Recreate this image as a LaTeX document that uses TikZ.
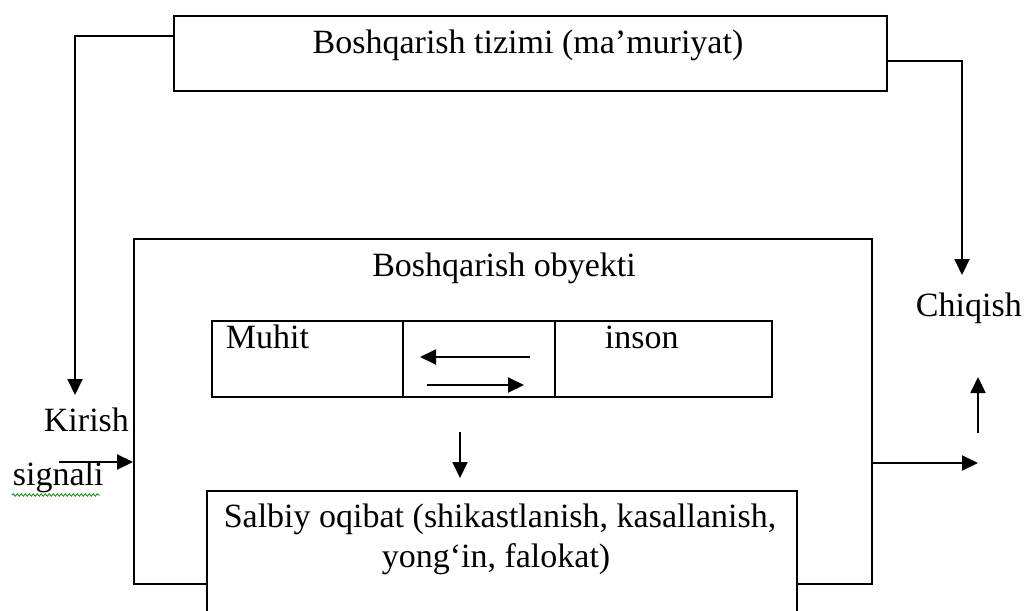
\documentclass[tikz,border=0pt]{standalone}
\usepackage{fontspec}
\setmainfont{Liberation Serif}
\usetikzlibrary{arrows.meta,decorations.pathmorphing}
\begin{document}
\begin{tikzpicture}[x=1pt,y=-1pt,
  line width=1.9pt,
  box/.style={draw,rectangle,inner sep=0pt,fill=white},
  lbl/.style={inner sep=0pt,anchor=base west,font=\fontsize{34}{39}\selectfont},
  arr/.style={-{Triangle[length=16pt,width=15pt]}},
]
\useasboundingbox (0,0) rectangle (1024,610);
\clip (0,0) rectangle (1024,610);
\fill[white] (0,0) rectangle (1024,610);

% top box
\node[box,minimum width=713pt,minimum height=75pt] (sys) at (530.5,53.5) {};
\node[lbl,anchor=base] (systxt) at (528,53) {Boshqarish tizimi (ma’muriyat)};

% big object box
\node[box,minimum width=738pt,minimum height=345pt] (obj) at (503,411.5) {};
\node[lbl,anchor=base] (objtxt) at (504,276) {Boshqarish obyekti};

% inner cells
\node[box,minimum width=191pt,minimum height=76pt] (c1) at (307.5,359) {};
\node[box,minimum width=152pt,minimum height=76pt] (c2) at (479,359) {};
\node[box,minimum width=217pt,minimum height=76pt] (c3) at (663.5,359) {};
\node[lbl] (muhit) at (225,348) {Muhit};
\node[lbl] (inson) at (604,348) {inson};

% bottom box
\node[box,minimum width=590pt,minimum height=149pt] (neg) at (502,565.5) {};
\node[lbl,anchor=base] (neg1) at (500,527) {Salbiy oqibat (shikastlanish, kasallanish,};
\node[lbl,anchor=base] (neg2) at (496,567) {yong‘in, falokat)};

% side labels
\node[lbl] (kirish) at (43,431) {Kirish};
\node[lbl] (signali) at (12,485) {signali};
\node[lbl] (chiqish) at (915,316) {Chiqish};
\draw[green!55!black,line width=0.8pt,decorate,
  decoration={snake,amplitude=1.2pt,segment length=4pt}] (12,495) -- (100,495);

% coordinates
\coordinate (kin) at (75,395);
\coordinate (cout) at (962,275);
\coordinate (kst) at (59,462);
\coordinate (oend) at (978,463);
\coordinate (ub) at (978,433);
\coordinate (ut) at (978,377);
\coordinate (db) at (460,432);
\coordinate (dt) at (460,478);
\coordinate (la) at (530,357);
\coordinate (lb) at (420,357);
\coordinate (ra) at (427,385);
\coordinate (rb) at (524,385);

% connectors
\draw[arr] (sys.north west) ++(0,21) -| (kin);
\draw[arr] (sys.north east) ++(0,46) -| (cout);
\draw[arr] (kst) -- (kst -| obj.west);
\draw[arr] (oend -| obj.east) -- (oend);
\draw[arr] (ub) -- (ut);
\draw[arr] (db) -- (dt);
\draw[arr] (la) -- (lb);
\draw[arr] (ra) -- (rb);
\end{tikzpicture}
\end{document}
